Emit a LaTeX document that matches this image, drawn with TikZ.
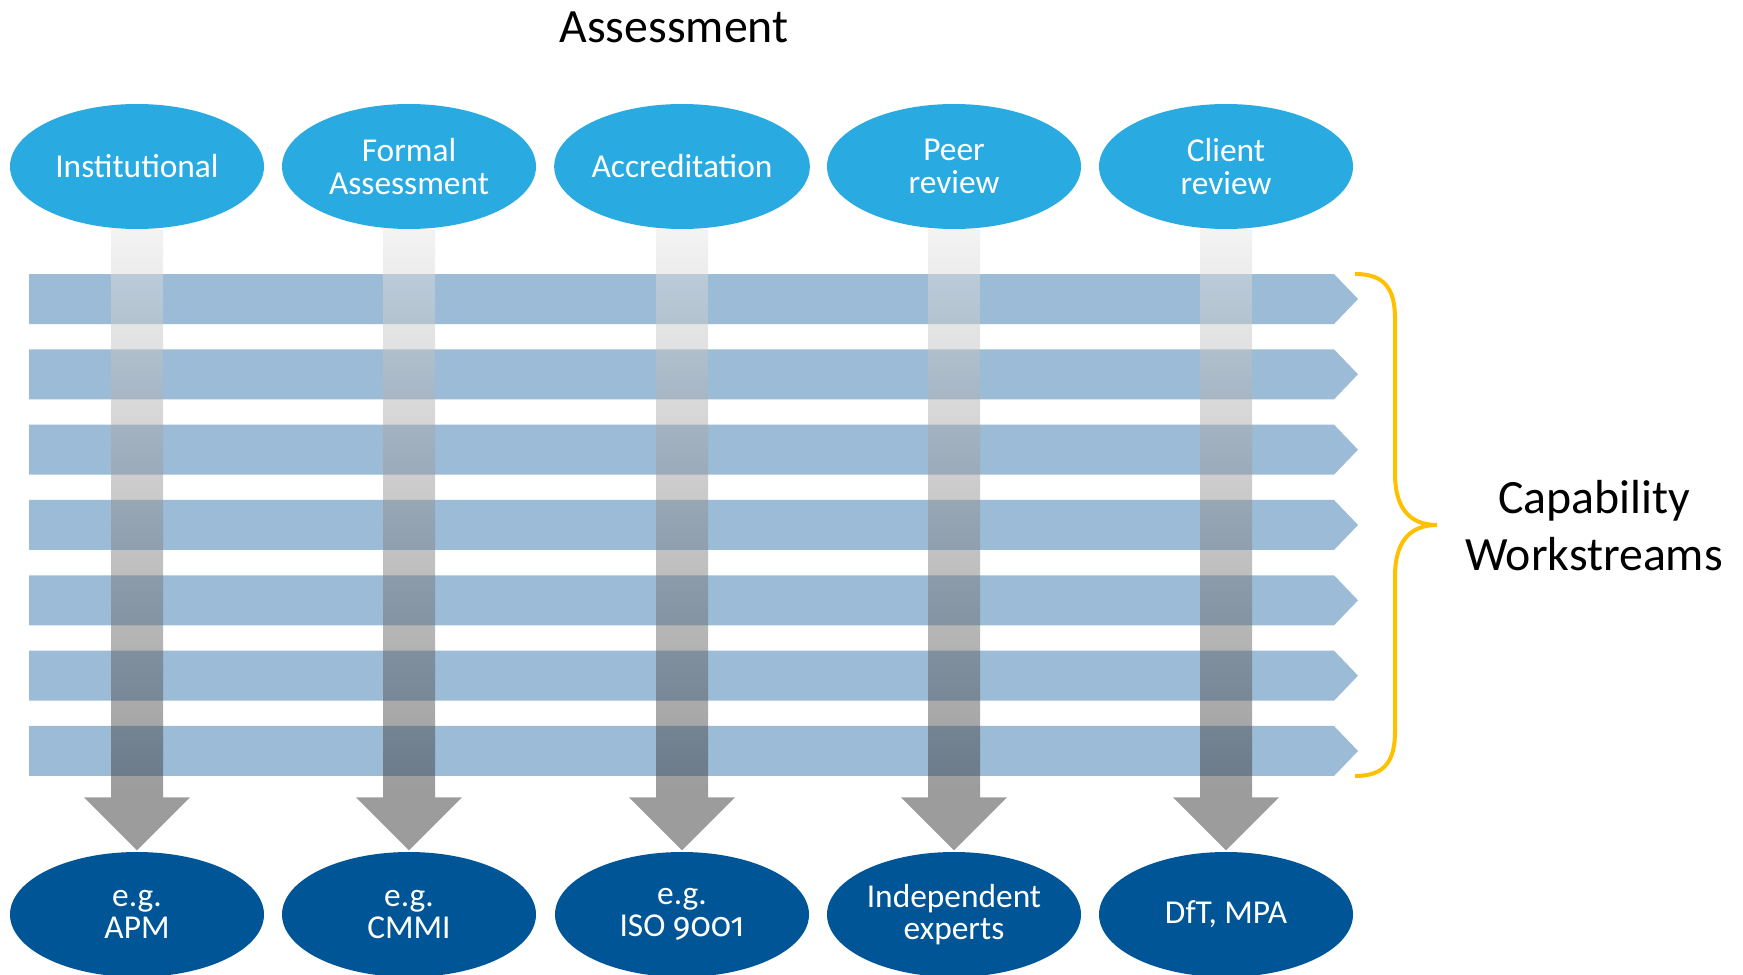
\documentclass[tikz,border=0pt]{standalone}
\usepackage{fontspec}
\setmainfont{Carlito}
\newfontfamily\oldnums[Numbers=OldStyle]{Fira Sans}
\usepackage{tikz}
\usetikzlibrary{calc, shapes.geometric}

\definecolor{skyblue}{HTML}{29ABE2}
\definecolor{deepblue}{HTML}{005596}
\definecolor{barblue}{HTML}{9BBBD6}
\definecolor{bracegold}{HTML}{FFC000}

\begin{document}
\begin{tikzpicture}[x=0.1mm, y=0.1mm,
  assess/.style={ellipse, fill=skyblue, text=white, inner sep=0pt,
    minimum width=25.4mm, minimum height=12.5mm, align=center,
    font=\fontsize{9.5}{9.2}\selectfont},
  example/.style={assess, fill=deepblue},
  stream/.style={fill=barblue},
  shaft/.style={top color=black!9, bottom color=black!78, fill opacity=0.5},
  head/.style={fill=black!39},
  label/.style={anchor=base, font=\fontsize{13.6}{16}\selectfont}]
  \useasboundingbox (0,0) rectangle (1743,974);

  % workstreams
  \foreach \i in {0,...,6}
    \fill[stream] (29,{700-75.33*\i}) -- (1334,{700-75.33*\i})
      -- (1358,{675-75.33*\i}) -- (1334,{650-75.33*\i})
      -- (29,{650-75.33*\i}) -- cycle;

  \node[assess] (inst) at (137,807.5) {Institutional};
  \node[assess] (formal) at (409,807.5) {Formal\\Assessment};
  \node[assess] (accr) at (682,807.5) {Accreditation};
  \node[assess] (peer) at (954,807.5) {Peer\\review};
  \node[assess] (client) at (1226,807.5) {Client\\review};

  \node[example] (apm) at (137,59.5) {e.g.\\APM};
  \node[example] (cmmi) at (409,59.5) {e.g.\\CMMI};
  \node[example] (iso) at (682,59.5) {e.g.\\ISO {\oldnums 9001}};
  \node[example] (experts) at (954,59.5) {Independent\\experts};
  \node[example] (dft) at (1226,59.5) {DfT, MPA};

  % assessment arrows
  \foreach \a/\b in {inst/apm, formal/cmmi, accr/iso, peer/experts, client/dft} {
    \shade[shaft] ($(\a.south)+(-26,0)$) rectangle ($(\b.north)+(26,54)$);
    \fill[head] ($(\b.north)+(-53,54)$) -- ($(\b.north)+(53,54)$)
      -- ($(\b.north)+(0,1)$) -- cycle;
  }

  % brace
  \coordinate (T) at (1355,700);
  \coordinate (M) at (1437,449);
  \coordinate (B) at (1355,198);
  \draw[bracegold, line width=0.4mm] (T) .. controls (1385,700) and (1395,685) .. (1395,655)
    -- (1395,500) .. controls (1395,468) and (1408,449) .. (M)
    .. controls (1408,449) and (1395,430) .. (1395,398)
    -- (1395,243) .. controls (1395,213) and (1385,198) .. (B);

  \node[label] (title) at (674,931) {Assessment};
  \node[label] (cap) at (1594,461) {Capability};
  \node[label] (work) at (1594,404) {Workstreams};
\end{tikzpicture}
\end{document}
